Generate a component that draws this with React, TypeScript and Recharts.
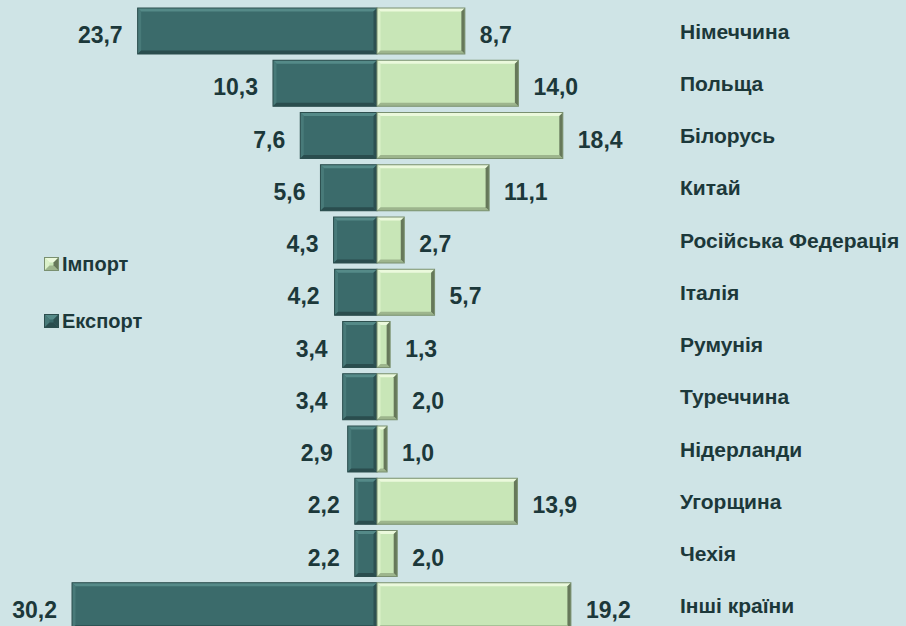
import { BarChart, Bar, XAxis, YAxis, LabelList } from 'recharts';

const countries = [
  'Німеччина', 'Польща', 'Білорусь', 'Китай', 'Російська Федерація', 'Італія',
  'Румунія', 'Туреччина', 'Нідерланди', 'Угорщина', 'Чехія', 'Інші країни',
];
const exportShare = [23.7, 10.3, 7.6, 5.6, 4.3, 4.2, 3.4, 3.4, 2.9, 2.2, 2.2, 30.2];
const importShare = [8.7, 14.0, 18.4, 11.1, 2.7, 5.7, 1.3, 2.0, 1.0, 13.9, 2.0, 19.2];

const data = countries.map((name, i) => ({ name, exp: -exportShare[i], imp: importShare[i] }));

const FONT = '"Liberation Sans", Arial, sans-serif';
const TEXT = '#1c383a';
const BG = '#cfe4e6';

const tones = {
  exp: { base: '#3b6b6b', top: '#558a88', left: '#487a79', bottom: '#2a4d4e', right: '#2c5051', edge: '#2c4e4e' },
  imp: { base: '#c8e6b7', top: '#ebf9dc', left: '#dbf1ca', bottom: '#9db58d', right: '#66785a', edge: '#7a9070' },
};

const fmt = (v: number) => v.toFixed(1).replace('.', ',');

function BevelBar(props: any) {
  const { x, y, width, height, tone, bevel = 3.5 } = props;
  const c = tones[tone as 'exp' | 'imp'];
  const x0 = width < 0 ? x + width : x;
  const w = Math.abs(width);
  const h = height;
  const b = Math.min(bevel, w / 2);
  return (
    <g>
      <rect x={x0} y={y} width={w} height={h} fill={c.base} />
      <polygon points={`${x0},${y} ${x0 + w},${y} ${x0 + w - b},${y + b} ${x0 + b},${y + b}`} fill={c.top} />
      <polygon points={`${x0},${y} ${x0 + b},${y + b} ${x0 + b},${y + h - b} ${x0},${y + h}`} fill={c.left} />
      <polygon points={`${x0},${y + h} ${x0 + w},${y + h} ${x0 + w - b},${y + h - b} ${x0 + b},${y + h - b}`} fill={c.bottom} />
      <polygon points={`${x0 + w},${y} ${x0 + w},${y + h} ${x0 + w - b},${y + h - b} ${x0 + w - b},${y + b}`} fill={c.right} />
      <rect x={x0} y={y} width={w} height={h} fill="none" stroke={c.edge} strokeWidth={1} />
    </g>
  );
}

function ExpLabel(props: any) {
  const { x, y, width, height, index } = props;
  const left = Math.min(x, x + width);
  return (
    <text x={left - 15} y={y + height / 2 + 4} textAnchor="end" dominantBaseline="central"
      fontFamily={FONT} fontWeight="bold" fontSize={23} fill={TEXT}>
      {fmt(exportShare[index])}
    </text>
  );
}

function ImpLabel(props: any) {
  const { x, y, width, height, index } = props;
  const right = Math.max(x, x + width);
  return (
    <text x={right + 15} y={y + height / 2 + 4} textAnchor="start" dominantBaseline="central"
      fontFamily={FONT} fontWeight="bold" fontSize={23} fill={TEXT}>
      {fmt(importShare[index])}
    </text>
  );
}

function NameTick(props: any) {
  const { x, y, payload } = props;
  return (
    <text x={x} y={y} textAnchor="start" dominantBaseline="central"
      fontFamily={FONT} fontWeight="bold" fontSize={21} fill={TEXT}>
      {payload.value}
    </text>
  );
}

function LegendRow({ tone, label }: { tone: 'exp' | 'imp'; label: string }) {
  return (
    <div style={{ display: 'flex', alignItems: 'center', height: 20 }}>
      <svg width={15} height={14} style={{ marginRight: 3 }}>
        <BevelBar x={0.5} y={0.5} width={14} height={13} tone={tone} bevel={5} />
      </svg>
      <span style={{ fontFamily: FONT, fontWeight: 'bold', fontSize: 20, color: TEXT }}>{label}</span>
    </div>
  );
}

export default function App() {
  return (
    <div style={{ position: 'absolute', left: 0, top: 0, width: 906, height: 626, overflow: 'hidden', background: BG }}>
      <BarChart width={906} height={632} data={data} layout="vertical" stackOffset="sign"
        margin={{ top: 5, right: 0, bottom: 0, left: 0 }}>
        <XAxis type="number" hide domain={[-37.33, 29.21]} allowDataOverflow />
        <YAxis type="category" dataKey="name" orientation="right" width={234}
          axisLine={false} tickLine={false} tick={<NameTick />} interval={0} />
        <Bar dataKey="exp" stackId="s" barSize={46} isAnimationActive={false}
          shape={(p: any) => <BevelBar {...p} tone="exp" />}>
          <LabelList dataKey="exp" content={<ExpLabel />} />
        </Bar>
        <Bar dataKey="imp" stackId="s" barSize={46} isAnimationActive={false}
          shape={(p: any) => <BevelBar {...p} tone="imp" />}>
          <LabelList dataKey="imp" content={<ImpLabel />} />
        </Bar>
      </BarChart>
      <div style={{ position: 'absolute', left: 44, top: 254 }}>
        <LegendRow tone="imp" label="Імпорт" />
        <div style={{ height: 37 }} />
        <LegendRow tone="exp" label="Експорт" />
      </div>
    </div>
  );
}
